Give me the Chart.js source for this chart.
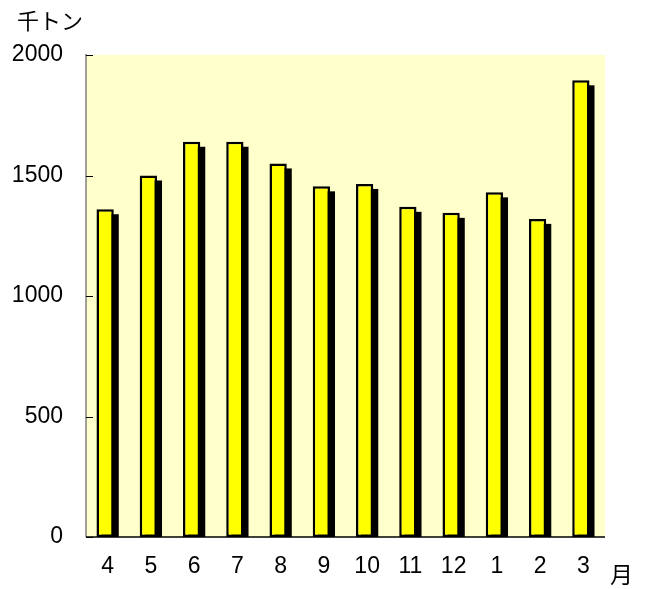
<!DOCTYPE html>
<html>
<head>
<meta charset="utf-8">
<script src="https://cdn.jsdelivr.net/npm/chart.js@4"></script>
<style>
html,body{margin:0;padding:0;background:#fff;}
#wrap{width:645px;height:589px;position:relative;}
</style>
</head>
<body>
<div id="wrap"><canvas id="c" width="645" height="589"></canvas></div>
<script>
const months = ['4','5','6','7','8','9','10','11','12','1','2','3'];
const values = [1360, 1500, 1640, 1640, 1550, 1455, 1465, 1370, 1345, 1430, 1320, 1895];
const yTicks = [0, 500, 1000, 1500, 2000];
const unitLabel = '千トン';
const monthLabel = '月';

const FONT = '"Liberation Sans", Arial, sans-serif';
const CJK = '"Noto Sans CJK JP", sans-serif';
const SHIFT = -2.5, SH = 5;

const deco = {
  id: 'deco',
  beforeDraw(chart) {
    const {ctx, chartArea: a} = chart;
    ctx.save();
    ctx.fillStyle = '#FFFFCC';
    ctx.fillRect(a.left, a.top, a.right - a.left, a.bottom - a.top);
    ctx.restore();
  },
  beforeDatasetDraw(chart, args) {
    const {ctx, chartArea: a} = chart;
    ctx.save();
    ctx.translate(SHIFT, 0);
    // shadows
    ctx.save();
    ctx.beginPath();
    ctx.rect(a.left - SHIFT, a.top, a.right - a.left, a.bottom - a.top);
    ctx.clip();
    ctx.fillStyle = '#000';
    args.meta.data.forEach(el => {
      const p = el.getProps(['x', 'y', 'base', 'width'], true);
      ctx.fillRect(p.x - p.width / 2 + SH, p.y + SH, p.width, p.base - p.y);
    });
    ctx.restore();
  },
  afterDatasetDraw(chart) {
    chart.ctx.restore();
  },
  afterDraw(chart) {
    const {ctx, chartArea: a, scales} = chart;
    ctx.save();
    ctx.strokeStyle = '#808080';
    ctx.lineWidth = 1.5;
    ctx.beginPath();
    ctx.moveTo(a.left, a.top - 1);
    ctx.lineTo(a.left, a.bottom);
    ctx.stroke();
    ctx.strokeStyle = '#000';
    ctx.lineWidth = 1;
    yTicks.forEach(v => {
      const y = Math.round(scales.y.getPixelForValue(v)) + 0.5;
      ctx.beginPath();
      ctx.moveTo(a.left, y);
      ctx.lineTo(a.left + 7, y);
      ctx.stroke();
    });
    ctx.lineWidth = 1.5;
    ctx.beginPath();
    ctx.moveTo(a.left, a.bottom);
    ctx.lineTo(a.right, a.bottom);
    ctx.stroke();
    ctx.fillStyle = '#000';
    ctx.font = '22px ' + CJK;
    ctx.textBaseline = 'middle';
    ctx.textAlign = 'left';
    ctx.fillText(unitLabel, 17, 21);
    ctx.font = '23px ' + CJK;
    ctx.fillText(monthLabel, 610, 574);
    ctx.restore();
  }
};

new Chart(document.getElementById('c'), {
  type: 'bar',
  data: {
    labels: months,
    datasets: [{
      data: values,
      backgroundColor: '#FFFF00',
      borderColor: '#000000',
      borderWidth: 2.5,
      borderSkipped: false,
      barPercentage: 0.4,
      categoryPercentage: 1.0,
      clip: 0
    }]
  },
  options: {
    responsive: false,
    animation: false,
    layout: {padding: {left: 0, right: 40, top: 55, bottom: 0}},
    plugins: {legend: {display: false}, tooltip: {enabled: false}},
    scales: {
      x: {
        grid: {display: false, drawTicks: false},
        border: {display: false},
        ticks: {color: '#000', font: {family: FONT, size: 23}, padding: 16, maxRotation: 0, autoSkip: false},
        afterFit(s) { s.height = 52; }
      },
      y: {
        min: 0, max: 2000,
        afterBuildTicks(s) { s.ticks = yTicks.map(v => ({value: v})); },
        grid: {display: false, drawTicks: false},
        border: {display: false},
        ticks: {color: '#000', font: {family: FONT, size: 23}, padding: 23, callback: v => String(v)},
        afterFit(s) { s.width = 86; }
      }
    }
  },
  plugins: [deco]
});
</script>
</body>
</html>
